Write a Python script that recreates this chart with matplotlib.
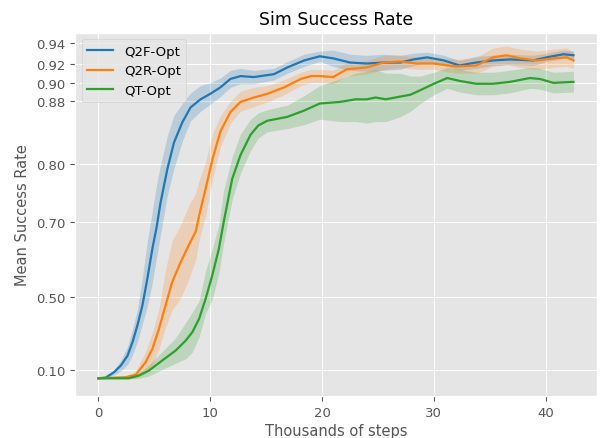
import numpy as np
import matplotlib
matplotlib.use("Agg")
import matplotlib.pyplot as plt

# ---- data (thousands of steps, mean success rate, band half-width) ----
q2f_steps = [0, 0.65, 1.4, 2.0, 2.6, 3.04, 3.48, 3.93, 4.37, 4.82, 5.18, 5.56, 6.16,
             6.75, 7.5, 8.24, 9.13, 10.0, 10.9, 11.8, 12.7, 13.9, 15.7, 16.9, 18.4,
             19.8, 21.0, 22.5, 24.0, 25.5, 27.0, 28.2, 29.4, 30.9, 32.3, 33.8, 35.3,
             36.8, 38.9, 40.1, 41.6, 42.5]
q2f_mean = [0.052, 0.056, 0.086, 0.122, 0.177, 0.251, 0.343, 0.454, 0.549, 0.629,
            0.683, 0.734, 0.791, 0.827, 0.853, 0.872, 0.882, 0.888, 0.895, 0.904,
            0.907, 0.906, 0.909, 0.916, 0.923, 0.927, 0.925, 0.921, 0.920, 0.921,
            0.921, 0.924, 0.926, 0.923, 0.918, 0.921, 0.923, 0.924, 0.923, 0.926,
            0.929, 0.928]
q2f_err = [0.003, 0.005, 0.015, 0.03, 0.05, 0.07, 0.09, 0.1, 0.1, 0.09, 0.08, 0.065,
           0.045, 0.035, 0.024, 0.017, 0.015, 0.012, 0.01, 0.009, 0.008, 0.007,
           0.006, 0.006, 0.006, 0.005, 0.008, 0.008, 0.008, 0.008, 0.007, 0.006,
           0.005, 0.005, 0.005, 0.006, 0.005, 0.005, 0.005, 0.004, 0.004, 0.004]

q2r_steps = [0, 2.44, 3.33, 4.22, 4.82, 5.41, 6.0, 6.6, 7.35, 8.1, 8.7, 9.0, 9.58,
             10.2, 10.9, 11.8, 12.7, 13.9, 15.1, 16.6, 18.1, 19.0, 19.8, 21.0, 22.2,
             24.0, 25.5, 27.0, 28.5, 30.0, 32.0, 33.8, 35.3, 36.5, 37.7, 39.2, 40.7,
             41.9, 42.5]
q2r_mean = [0.052, 0.058, 0.071, 0.141, 0.214, 0.325, 0.454, 0.541, 0.593, 0.640,
            0.675, 0.711, 0.757, 0.806, 0.841, 0.866, 0.879, 0.884, 0.888, 0.895,
            0.904, 0.907, 0.907, 0.906, 0.914, 0.916, 0.921, 0.922, 0.920, 0.920,
            0.917, 0.918, 0.926, 0.928, 0.925, 0.923, 0.925, 0.926, 0.923]
q2r_err = [0.003, 0.006, 0.02, 0.06, 0.09, 0.11, 0.12, 0.11, 0.1, 0.09, 0.075,
           0.06, 0.046, 0.032, 0.02, 0.014, 0.012, 0.011, 0.009, 0.008, 0.007,
           0.007, 0.007, 0.007, 0.007, 0.007, 0.007, 0.006, 0.006, 0.006, 0.007,
           0.008, 0.009, 0.009, 0.009, 0.009, 0.009, 0.009, 0.008]

qt_steps = [0, 2.7, 3.6, 4.5, 5.7, 6.9, 7.8, 8.4, 9.0, 9.58, 10.18, 10.77, 11.2,
            11.96, 12.7, 13.6, 14.3, 15.1, 16.9, 18.4, 19.8, 21.6, 23.0, 24.0, 24.8,
            25.7, 27.0, 27.9, 28.8, 30.0, 31.2, 32.3, 33.8, 35.3, 36.8, 38.6, 39.5,
            40.7, 42.5]
qt_mean = [0.052, 0.052, 0.067, 0.094, 0.150, 0.205, 0.260, 0.307, 0.380, 0.490,
           0.558, 0.629, 0.700, 0.774, 0.811, 0.837, 0.849, 0.855, 0.860, 0.868,
           0.877, 0.879, 0.882, 0.882, 0.884, 0.882, 0.885, 0.887, 0.892, 0.899,
           0.905, 0.902, 0.899, 0.899, 0.901, 0.905, 0.904, 0.900, 0.901]
qt_err = [0.003, 0.004, 0.015, 0.03, 0.05, 0.07, 0.1, 0.11, 0.1, 0.08, 0.07, 0.065,
          0.055, 0.035, 0.027, 0.02, 0.016, 0.014, 0.015, 0.018, 0.02, 0.025, 0.028,
          0.03, 0.03, 0.028, 0.025, 0.02, 0.015, 0.012, 0.011, 0.012, 0.012, 0.012,
          0.012, 0.011, 0.011, 0.011, 0.011]

yticks = [0.10, 0.50, 0.70, 0.80, 0.88, 0.90, 0.92, 0.94]

# non-linear y axis: piecewise map fitted to the tick spacing of the original
Y_KNOTS = [-1.0, 0.10, 0.50, 0.70, 0.80, 0.88, 0.90, 0.92, 0.94, 2.0]
H_KNOTS = [-199.1, 0.0, 72.4, 147.4, 205.7, 268.4, 286.7, 306.0, 326.7, 1423.8]

def fwd(y):
    return np.interp(y, Y_KNOTS, H_KNOTS)

def inv(h):
    return np.interp(h, H_KNOTS, Y_KNOTS)

plt.style.use("ggplot")
fig = plt.figure(figsize=(6.0, 4.39), dpi=100)
ax = fig.add_axes([0.125, 0.095, 0.87, 0.828])
ax.set_yscale("function", functions=(fwd, inv))

series = [
    ("Q2F-Opt", q2f_steps, q2f_mean, q2f_err, "#1f77b4"),
    ("Q2R-Opt", q2r_steps, q2r_mean, q2r_err, "#ff7f0e"),
    ("QT-Opt", qt_steps, qt_mean, qt_err, "#2ca02c"),
]
for name, xs, m, e, c in series:
    xs, m, e = np.array(xs), np.array(m), np.array(e)
    ax.fill_between(xs, m - e, m + e, color=c, alpha=0.22, lw=0)
    ax.plot(xs, m, color=c, lw=1.6, label=name)

ax.set_xlim(-2.1, 44.6)
ax.set_ylim(-0.0475, 0.9497)
ax.set_yticks(yticks)
ax.set_yticklabels([f"{t:.2f}" for t in yticks])
ax.set_xticks([0, 10, 20, 30, 40])
ax.tick_params(labelsize=9.5)
ax.set_title("Sim Success Rate", fontsize=12.5, color="black")
ax.set_xlabel("Thousands of steps", fontsize=10.5, labelpad=3)
ax.set_ylabel("Mean Success Rate", fontsize=10.5)
ax.legend(loc="upper left", fontsize=9.5, borderaxespad=0.5)

fig.savefig("out.png", dpi=100)
